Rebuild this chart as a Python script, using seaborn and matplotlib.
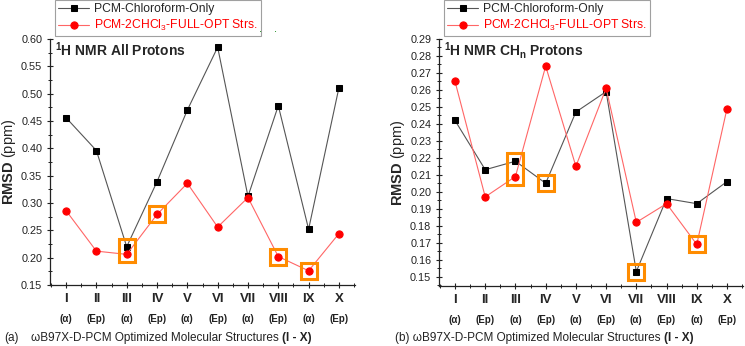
import numpy as np
import pandas as pd
import seaborn as sns
import matplotlib.pyplot as plt
from matplotlib.patches import Rectangle
from matplotlib.ticker import MultipleLocator, FormatStrFormatter

# === DATI ===
structures = ['I', 'II', 'III', 'IV', 'V', 'VI', 'VII', 'VIII', 'IX', 'X']
sub_labels = ['(α)', '(Ep)', '(α)', '(Ep)', '(α)', '(Ep)', '(α)', '(Ep)', '(α)', '(Ep)']

# pannello (a) - tutti i protoni
all_chcl3 = [0.456, 0.396, 0.220, 0.339, 0.470, 0.585, 0.312, 0.478, 0.252, 0.511]
all_full = [0.286, 0.212, 0.206, 0.279, 0.336, 0.256, 0.310, 0.202, 0.176, 0.244]
# pannello (b) - protoni CHn
chn_chcl3 = [0.242, 0.213, 0.218, 0.205, 0.247, 0.259, 0.153, 0.196, 0.193, 0.206]
chn_full = [0.265, 0.197, 0.209, 0.274, 0.215, 0.261, 0.182, 0.193, 0.169, 0.249]

# punti evidenziati (indice struttura, serie)
highlight_a = [(3, 'both'), (4, 'full'), (8, 'full'), (9, 'full')]
highlight_b = [(3, 'both'), (4, 'chcl3'), (7, 'chcl3'), (9, 'full')]

lab_chcl3 = 'PCM-Chloroform-Only'
lab_full = 'PCM-2CHCl$_3$-FULL-OPT Strs.'

# === STILE ===
sns.set_theme(style='ticks')
plt.rcParams['font.family'] = ['Liberation Sans', 'DejaVu Sans']
plt.rcParams['mathtext.fontset'] = 'custom'
plt.rcParams['mathtext.rm'] = 'Liberation Sans'
plt.rcParams['mathtext.bf'] = 'Liberation Sans:bold'
plt.rcParams['mathtext.it'] = 'Liberation Sans:italic'

W, H = 745, 346
fig = plt.figure(figsize=(W / 100, H / 100), dpi=100)


def make_panel(rect, chcl3, full, ylim, major, title, highlights, legend_x):
  x0, y0, x1, y1 = rect
  ax = fig.add_axes([x0 / W, 1 - y1 / H, (x1 - x0) / W, (y1 - y0) / H])
  x = np.arange(1, len(structures) + 1)
  df = pd.DataFrame({'x': np.concatenate([x, x]),
                     'y': chcl3 + full,
                     'serie': [lab_chcl3] * len(x) + [lab_full] * len(x)})

  sns.lineplot(data=df[df['serie'] == lab_chcl3], x='x', y='y', ax=ax, color='#555555',
               lw=0.8, marker='s', markersize=4.5, markerfacecolor='black',
               markeredgecolor='black', label=lab_chcl3)
  sns.lineplot(data=df[df['serie'] == lab_full], x='x', y='y', ax=ax, color='#ff6666',
               lw=0.8, marker='o', markersize=5.2, markerfacecolor='#ff0000',
               markeredgecolor='#ff0000', label=lab_full)

  ax.set_xlim(0.47, 10.53)
  ax.set_ylim(*ylim)

  # riquadri arancioni
  px_y = (ylim[1] - ylim[0]) / (y1 - y0)
  px_x = 10.06 / (x1 - x0)
  half = 8
  for i, which in highlights:
    if which == 'both':
      vals = [chcl3[i - 1], full[i - 1]]
    elif which == 'full':
      vals = [full[i - 1]]
    else:
      vals = [chcl3[i - 1]]
    lo = min(vals) - half * px_y
    hi = max(vals) + half * px_y
    ax.add_patch(Rectangle((i - half * px_x, lo), 2 * half * px_x, hi - lo,
                           fill=False, edgecolor='#ff8c00', lw=2.2, zorder=5))

  for s in ['top', 'right']:
    ax.spines[s].set_visible(False)
  for s in ['left', 'bottom']:
    ax.spines[s].set_linewidth(0.9)
    ax.spines[s].set_color('#222222')

  ax.xaxis.set_minor_locator(MultipleLocator(0.5))
  ax.yaxis.set_major_locator(MultipleLocator(major))
  ax.yaxis.set_minor_locator(MultipleLocator(major / 2))
  ax.yaxis.set_major_formatter(FormatStrFormatter('%.2f'))
  ax.set_xticks(x)
  ax.set_xticklabels(structures, fontweight='bold', fontsize=9.5,
                     family=['Liberation Sans Narrow', 'Liberation Sans'])
  ax.tick_params(axis='both', which='major', direction='inout', length=5, width=0.8,
                 color='#222222')
  ax.tick_params(axis='both', which='minor', direction='inout', length=3, width=0.7,
                 color='#222222')
  ax.tick_params(axis='y', labelsize=7.8, pad=3, labelcolor='#222222')
  ax.tick_params(axis='x', pad=3.5)

  for xi, sl in zip(x, sub_labels):
    ax.annotate(sl, xy=(xi, 0), xycoords=('data', 'axes fraction'),
                xytext=(0, -24.5), textcoords='offset points', ha='center', va='center',
                fontsize=7, fontweight='bold', color='#222222')

  ax.set_xlabel('')
  ax.set_ylabel(r'$\bf{RMSD}$ (ppm)', fontsize=10.5, labelpad=2)
  ax.text(0.018, 0.955, title, transform=ax.transAxes, fontsize=10,
          fontweight='bold', va='center', ha='left')

  leg = ax.legend(loc='upper left', bbox_to_anchor=(legend_x / W, 1.0),
                  bbox_transform=fig.transFigure, fontsize=8.7, frameon=True,
                  fancybox=False, edgecolor='#888888', handlelength=2.6,
                  borderpad=0.25, labelspacing=0.25, handletextpad=0.4, borderaxespad=0)
  leg.get_frame().set_linewidth(0.8)
  leg.get_texts()[1].set_color('red')
  return ax


ax_a = make_panel((50, 39, 355, 285), all_chcl3, all_full, (0.15, 0.60), 0.05,
                  r'$^\mathbf{1}$H NMR All Protons', highlight_a, 55)
ax_b = make_panel((439, 39, 743, 286), chn_chcl3, chn_full, (0.1445, 0.29), 0.01,
                  r'$^\mathbf{1}$H NMR CH$_\mathbf{n}$ Protons', highlight_b, 444)

# puntini verdi nella legenda di sinistra
fig.text(259 / W, 1 - 29 / H, '.', color='green', fontsize=8, va='center')
fig.text(274 / W, 1 - 29 / H, '.', color='green', fontsize=8, va='center')

# didascalie: parte normale + "(I - X)" in grassetto subito dopo
cap_y = 1 - 338 / H
fig.text(4 / W, cap_y, '(a)', fontsize=8.5, va='center', color='#222222')
caps = [fig.text(31 / W, cap_y, 'ωB97X-D-PCM Optimized Molecular Structures',
                 fontsize=8.5, va='center', color='#222222'),
        fig.text(395 / W, cap_y, '(b) ωB97X-D-PCM Optimized Molecular Structures',
                 fontsize=8.5, va='center', color='#222222')]
renderer = fig.canvas.get_renderer()
for t in caps:
  bb = t.get_window_extent(renderer=renderer)
  fig.text((bb.x1 + 3) / W, cap_y, '(I - X)', fontsize=8.5, fontweight='bold',
           va='center', color='#222222')

fig.savefig('out.png', dpi=100)
